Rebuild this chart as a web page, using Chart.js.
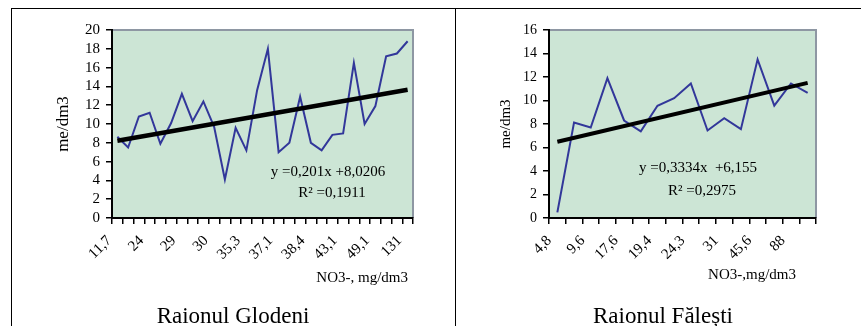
<!DOCTYPE html>
<html>
<head>
<meta charset="utf-8">
<script src="https://cdn.jsdelivr.net/npm/chart.js@4"></script>
<style>
  body { margin: 0; background: #fff; width: 861px; height: 326px; overflow: hidden; position: relative; font-family: 'Liberation Serif', serif; }
  canvas { position: absolute; top: 0; }
  .rule { position: absolute; background: #000; }
  .caption { position: absolute; top: 304px; font-size: 23px; line-height: 23px; text-align: center; color: #000; white-space: nowrap; }
</style>
</head>
<body>
<canvas id="glodeni" width="455" height="326" style="left:0"></canvas>
<canvas id="falesti" width="405" height="326" style="left:456px"></canvas>
<div class="rule" style="left:11px; top:8px; width:850px; height:1px"></div>
<div class="rule" style="left:11px; top:8px; width:1px; height:318px"></div>
<div class="rule" style="left:455px; top:8px; width:1px; height:318px"></div>
<div class="caption" style="left:133px; width:200px">Raionul Glodeni</div>
<div class="caption" style="left:563px; width:200px">Raionul Fălești</div>
<script>
// Raionul Glodeni - me/dm3 by sample, sorted by NO3-
var glodeniValues = [8.65, 7.5, 10.8, 11.2, 7.9, 10.1, 13.2, 10.3, 12.4, 9.7, 4.1, 9.6, 7.2, 13.6,
  18.0, 7.0, 8.0, 12.9, 8.0, 7.2, 8.85, 9.0, 16.5, 10.0, 11.9, 17.2, 17.5, 18.8]
var glodeniTicks = ['11,7', '24', '29', '30', '35,3', '37,1', '38,4', '43,1', '49,1', '131']
var glodeniTrend = [8.22, 13.65] // first / last point of the trend line
var glodeniEq = ['y =0,201x +8,0206', 'R\u00B2 =0,1911']

// Raionul Fălești
var falestiValues = [0.48, 8.13, 7.7, 11.9, 8.3, 7.37, 9.55, 10.2, 11.45, 7.45, 8.5, 7.56, 13.5,
  9.57, 11.45, 10.65]
var falestiTicks = ['4,8', '9,6', '17,6', '19,4', '24,3', '31', '45,6', '88']
var falestiTrend = [6.49, 11.5]
var falestiEq = ['y =0,3334x  +6,155', 'R\u00B2 =0,2975']

Chart.defaults.font.family = "'Liberation Serif', serif"
Chart.defaults.color = '#000'

// green plot area, grey top/right frame, equation and x title text
var plotFrame = {
  id: 'plotFrame',
  beforeDraw: function (chart) {
    var a = chart.chartArea
    var c = chart.ctx
    c.save()
    c.fillStyle = '#cce5d5'
    c.fillRect(a.left, a.top, a.right - a.left, a.bottom - a.top)
    c.strokeStyle = '#8e97a3'
    c.lineWidth = 2
    c.beginPath()
    c.moveTo(a.left, a.top)
    c.lineTo(a.right, a.top)
    c.lineTo(a.right, a.bottom)
    c.stroke()
    c.restore()
  },
  afterDraw: function (chart, args, opts) {
    var c = chart.ctx
    c.save()
    c.fillStyle = '#000'
    c.textBaseline = 'middle'
    c.font = opts.size + "px 'Liberation Serif'"
    c.textAlign = 'center'
    c.fillText(opts.eq[0], opts.eq1[0], opts.eq1[1])
    c.fillText(opts.eq[1], opts.eq2[0], opts.eq2[1])
    c.textAlign = 'right'
    c.fillText(opts.xTitle, opts.xt[0], opts.xt[1])
    c.restore()
  }
}

function makeChart (id, values, ticks, step, trend, yMax, cfg) {
  var n = values.length
  var labels = values.map(function (v, i) {
    return i % step === 0 ? ticks[i / step] : ''
  })
  // trend line only has its two end points, the gap is spanned
  var trendData = values.map(function (v, i) {
    if (i === 0) return trend[0]
    if (i === n - 1) return trend[1]
    return null
  })
  return new Chart(document.getElementById(id), {
    type: 'line',
    data: {
      labels: labels,
      datasets: [
        {
          data: values,
          borderColor: '#32379a',
          borderWidth: cfg.lineW,
          pointRadius: 0,
          tension: 0,
          order: 1
        },
        {
          data: trendData,
          spanGaps: true,
          borderColor: '#000',
          borderWidth: cfg.trendW,
          pointRadius: 0,
          tension: 0,
          order: 0
        }
      ]
    },
    options: {
      responsive: false,
      animation: false,
      layout: { padding: { left: cfg.padLeft, top: 30, right: cfg.padRight, bottom: 0 } },
      scales: {
        x: {
          offset: true,
          afterFit: function (s) { s.height = 108 },
          grid: { offset: true, drawOnChartArea: false, tickLength: 6, color: '#000', lineWidth: 1.5 },
          border: { color: '#000', width: 2 },
          ticks: {
            autoSkip: false,
            maxRotation: 45,
            minRotation: 45,
            padding: 8,
            labelOffset: -8,
            font: { size: 15 }
          }
        },
        y: {
          min: 0,
          max: yMax,
          afterFit: function (s) { s.width = cfg.yWidth },
          grid: { drawOnChartArea: false, tickLength: 6, color: '#000', lineWidth: 1.5 },
          border: { color: '#000', width: 2 },
          ticks: { stepSize: 2, autoSkip: false, padding: 6, font: { size: cfg.yTickSize } },
          title: { display: true, text: 'me/dm3', font: { size: cfg.yTitleSize }, padding: { top: 4, bottom: 0 } }
        }
      },
      plugins: {
        legend: { display: false },
        tooltip: { enabled: false },
        plotFrame: cfg.notes
      }
    },
    plugins: [plotFrame]
  })
}

makeChart('glodeni', glodeniValues, glodeniTicks, 3, glodeniTrend, 20, {
  lineW: 2, trendW: 4.5, padLeft: 49, padRight: 42, yWidth: 63, yTickSize: 15, yTitleSize: 17,
  notes: { eq: glodeniEq, size: 15, eq1: [328, 172], eq2: [332, 193], xTitle: 'NO3-, mg/dm3', xt: [408, 278] }
})

makeChart('falesti', falestiValues, falestiTicks, 2, falestiTrend, 16, {
  lineW: 2, trendW: 4, padLeft: 37, padRight: 45, yWidth: 56, yTickSize: 14, yTitleSize: 15,
  notes: { eq: falestiEq, size: 15, eq1: [242, 168], eq2: [246, 191], xTitle: 'NO3-,mg/dm3', xt: [340, 275] }
})
</script>
</body>
</html>
